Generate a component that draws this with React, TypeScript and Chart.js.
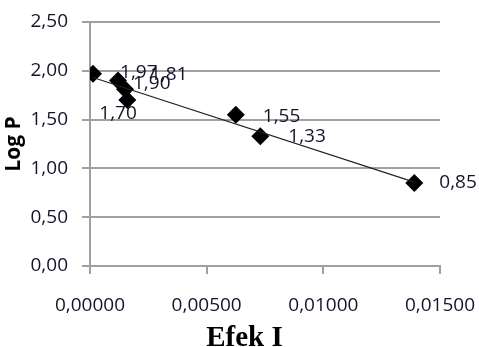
import React, { useEffect, useRef } from "react";
import { Chart, registerables } from "chart.js";

Chart.register(...registerables);

// ---- data ----
const efekI = [0.00013, 0.0012, 0.0015, 0.0016, 0.00625, 0.0073, 0.0139];
const logP = [1.97, 1.9, 1.81, 1.7, 1.55, 1.33, 0.85];
const yTicks = [0, 0.5, 1, 1.5, 2, 2.5];
const xTicks = [0, 0.005, 0.01, 0.015];
const xTitle = "Efek I";
const yTitle = "Log P";
// label placement (style) relative to each point: [dx, dy]
const labelOffsets = [
  [27, -1],
  [15, 3],
  [25, -15],
  [-28, 14],
  [27, 2],
  [28, 0],
  [25, 0],
];

const fmt = (v: number, d: number) => v.toFixed(d).replace(".", ",");

function regression(xs: number[], ys: number[]) {
  const n = xs.length;
  const mx = xs.reduce((a, b) => a + b, 0) / n;
  const my = ys.reduce((a, b) => a + b, 0) / n;
  let sxy = 0;
  let sxx = 0;
  for (let i = 0; i < n; i++) {
    sxy += (xs[i] - mx) * (ys[i] - my);
    sxx += (xs[i] - mx) * (xs[i] - mx);
  }
  const slope = sxy / sxx;
  const intercept = my - slope * mx;
  return { slope, intercept };
}

const GRID = "#a0a0a0";
const TICK_COLOR = "#14142a";
const FONT = "'Open Sans'";

export default function App() {
  const ref = useRef<HTMLCanvasElement | null>(null);

  useEffect(() => {
    if (!ref.current) return;
    const { slope, intercept } = regression(efekI, logP);
    const xmin = Math.min(...efekI);
    const xmax = Math.max(...efekI);
    const trend = [
      { x: xmin, y: intercept + slope * xmin },
      { x: xmax, y: intercept + slope * xmax },
    ];

    const labelPlugin = {
      id: "pointLabelsAndTitle",
      afterDatasetsDraw(chart: any) {
        const ctx = chart.ctx;
        const meta = chart.getDatasetMeta(1);
        ctx.save();
        ctx.font = `19px ${FONT}`;
        ctx.fillStyle = TICK_COLOR;
        ctx.textAlign = "left";
        ctx.textBaseline = "middle";
        meta.data.forEach((el: any, i: number) => {
          const [dx, dy] = labelOffsets[i];
          ctx.fillText(fmt(logP[i], 2), el.x + dx, el.y + dy);
        });
        ctx.font = 'bold 29px "Liberation Serif"';
        ctx.fillStyle = "#000";
        ctx.textAlign = "center";
        ctx.textBaseline = "alphabetic";
        ctx.fillText(xTitle, chart.width / 2 + 5, chart.height - 1);
        ctx.restore();
      },
    };

    const chart = new Chart(ref.current, {
      type: "scatter",
      data: {
        datasets: [
          {
            type: "line",
            data: trend,
            borderColor: "#222",
            borderWidth: 1.2,
            pointRadius: 0,
            fill: false,
          } as any,
          {
            data: efekI.map((x, i) => ({ x, y: logP[i] })),
            pointStyle: "rectRot",
            pointRadius: 9,
            backgroundColor: "#000",
            borderColor: "#000",
            borderWidth: 0,
            showLine: false,
          },
        ],
      },
      options: {
        animation: false,
        responsive: false,
        layout: { padding: { top: 22, right: 39, left: 0, bottom: 0 } },
        plugins: {
          legend: { display: false },
          tooltip: { enabled: false },
          title: { display: false },
        },
        scales: {
          x: {
            type: "linear",
            min: 0,
            max: 0.015,
            afterBuildTicks: (s: any) => {
              s.ticks = xTicks.map((v) => ({ value: v }));
            },
            afterFit: (s: any) => {
              s.height = 81;
              s.paddingLeft = 0;
              s.paddingRight = 0;
            },
            ticks: {
              callback: (v: any) => fmt(Number(v), 5),
              color: TICK_COLOR,
              font: { family: FONT, size: 19 },
              padding: 20,
              maxRotation: 0,
              autoSkip: false,
            },
            grid: {
              drawOnChartArea: false,
              drawTicks: true,
              tickLength: 8,
              color: GRID,
              lineWidth: 2,
            },
            border: { display: true, color: GRID, width: 2 },
          },
          y: {
            type: "linear",
            min: 0,
            max: 2.5,
            afterBuildTicks: (s: any) => {
              s.ticks = yTicks.map((v) => ({ value: v }));
            },
            afterFit: (s: any) => {
              s.width = 90;
              s.paddingTop = 0;
              s.paddingBottom = 0;
            },
            ticks: {
              callback: (v: any) => fmt(Number(v), 2),
              color: TICK_COLOR,
              font: { family: FONT, size: 19 },
              padding: 14,
              autoSkip: false,
            },
            grid: {
              drawOnChartArea: true,
              drawTicks: true,
              tickLength: 8,
              color: GRID,
              lineWidth: 2,
            },
            border: { display: true, color: GRID, width: 2 },
            title: {
              display: true,
              text: yTitle,
              color: "#000",
              font: { family: FONT, size: 21, weight: "bold" },
              padding: { top: 1, bottom: 0 },
            },
          },
        },
      },
      plugins: [labelPlugin],
    } as any);

    return () => chart.destroy();
  }, []);

  return (
    <div style={{ position: "absolute", left: 0, top: 0, width: 479, height: 347, background: "#fff" }}>
      <canvas ref={ref} width={479} height={347} style={{ display: "block" }} />
    </div>
  );
}
